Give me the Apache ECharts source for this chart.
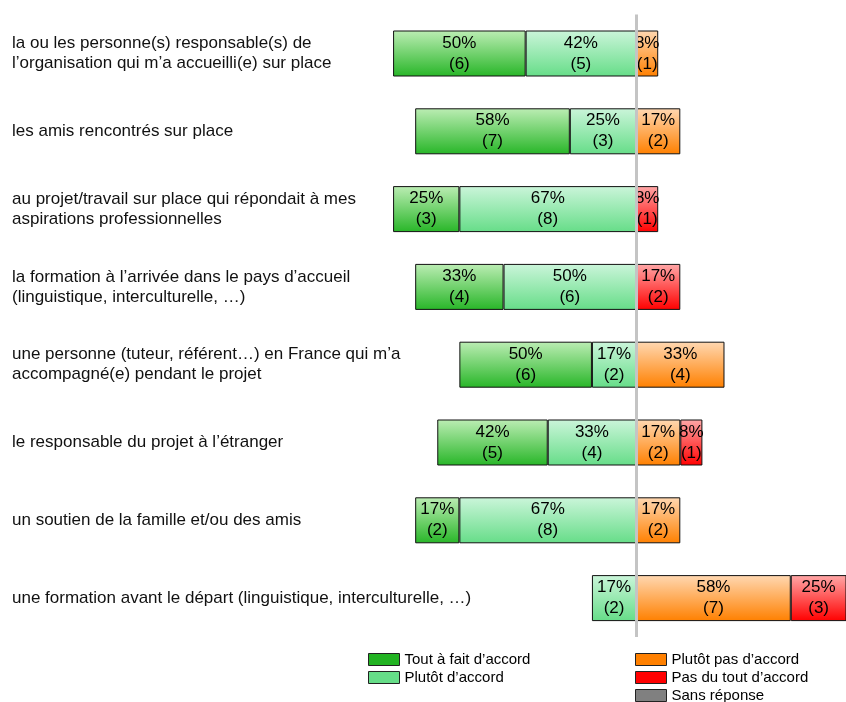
<!DOCTYPE html>
<html>
<head>
<meta charset="utf-8">
<script src="https://cdn.jsdelivr.net/npm/echarts@6/dist/echarts.min.js"></script>
<style>
  html, body { margin: 0; padding: 0; background: #fff; }
  #myChart { width: 846px; height: 702px; }
</style>
</head>
<body>
<div id="myChart"></div>
<script>
// categories (top to bottom)
const categories = [
  'la ou les personne(s) responsable(s) de\nl’organisation qui m’a accueilli(e) sur place',
  'les amis rencontrés sur place',
  'au projet/travail sur place qui répondait à mes\naspirations professionnelles',
  'la formation à l’arrivée dans le pays d’accueil\n(linguistique, interculturelle, …)',
  'une personne (tuteur, référent…) en France qui m’a\naccompagné(e) pendant le projet',
  'le responsable du projet à l’étranger',
  'un soutien de la famille et/ou des amis',
  'une formation avant le départ (linguistique, interculturelle, …)'
];

// nombre de réponses par modalité
const countTout = [6, 7, 3, 4, 6, 5, 2, null];
const countPlutot = [5, 3, 8, 6, 2, 4, 8, 2];
const countPlutotPas = [1, 2, null, null, 4, 2, 2, 7];
const countPasDuTout = [null, null, 1, 2, null, 1, null, 3];
const countSansReponse = [null, null, null, null, null, null, null, null];

// pourcentages affichés
const pctTout = [50, 58, 25, 33, 50, 42, 17, null];
const pctPlutot = [42, 25, 67, 50, 17, 33, 67, 17];
const pctPlutotPas = [8, 17, null, null, 33, 17, 17, 58];
const pctPasDuTout = [null, null, 8, 17, null, 8, null, 25];
const pctSansReponse = [null, null, null, null, null, null, null, null];

const legendNames = ['Tout à fait d’accord', 'Plutôt d’accord', 'Plutôt pas d’accord', 'Pas du tout d’accord', 'Sans réponse'];
const legendColors = ['#22b322', '#66dd88', '#ff8000', '#ff0000', '#808080'];

const FONT = 'Liberation Sans, Arial, sans-serif';

function grad(top, bottom) {
  return new echarts.graphic.LinearGradient(0, 0, 0, 1, [
    {offset: 0, color: top},
    {offset: 1, color: bottom}
  ]);
}

function makeSeries(name, counts, pcts, left, top, bottom) {
  return {
    name: name,
    type: 'bar',
    stack: 'total',
    barWidth: 46,
    // à gauche du centre : valeurs négatives
    data: counts.map(v => v == null ? null : (left ? -v : v)),
    itemStyle: {
      color: grad(top, bottom),
      borderColor: '#111',
      borderWidth: 1
    },
    label: {
      show: true,
      position: 'inside',
      color: '#000',
      fontSize: 17,
      lineHeight: 21,
      fontFamily: FONT,
      textBorderWidth: 0,
      formatter: p => pcts[p.dataIndex] == null ? '' : pcts[p.dataIndex] + '%\n(' + counts[p.dataIndex] + ')'
    }
  };
}

const series = [
  makeSeries(legendNames[1], countPlutot, pctPlutot, true, '#cbf5da', '#66dd88'),
  makeSeries(legendNames[0], countTout, pctTout, true, '#bcedb4', '#28b628'),
  makeSeries(legendNames[2], countPlutotPas, pctPlutotPas, false, '#ffd8b2', '#ff8000'),
  makeSeries(legendNames[3], countPasDuTout, pctPasDuTout, false, '#ffa8a8', '#ff0000'),
  makeSeries(legendNames[4], countSansReponse, pctSansReponse, false, '#c0c0c0', '#808080')
];

// ligne grise verticale au centre
series[4].markLine = {
  silent: true,
  symbol: 'none',
  label: {show: false},
  lineStyle: {color: '#c4c4c4', width: 3, type: 'solid'},
  data: [{xAxis: 0}]
};

function legendData(idx) {
  return idx.map(i => ({
    name: legendNames[i],
    itemStyle: {color: legendColors[i], borderColor: '#222', borderWidth: 1}
  }));
}

const legendText = {color: '#000', fontSize: 15, lineHeight: 15, fontFamily: FONT};

const option = {
  animation: false,
  grid: {left: 371, right: 0, top: 14.6, height: 622.4, containLabel: false},
  xAxis: {
    type: 'value',
    min: -12,
    max: 9.5,
    show: false
  },
  yAxis: {
    type: 'category',
    inverse: true,
    data: categories,
    axisLine: {show: false, onZero: false},
    axisTick: {show: false},
    splitLine: {show: false},
    axisLabel: {
      align: 'left',
      margin: 359,
      color: '#111',
      fontSize: 17,
      lineHeight: 20,
      fontFamily: FONT
    }
  },
  legend: [
    {
      left: 368, top: 652, height: 80, padding: 0, orient: 'vertical', selectedMode: false,
      icon: 'rect', itemWidth: 31, itemHeight: 12, itemGap: 3,
      textStyle: legendText,
      data: legendData([0, 1])
    },
    {
      left: 635, top: 652, height: 80, padding: 0, orient: 'vertical', selectedMode: false,
      icon: 'rect', itemWidth: 31, itemHeight: 12, itemGap: 3,
      textStyle: legendText,
      data: legendData([2, 3, 4])
    }
  ],
  series: series
};

let myChart = echarts.init(document.getElementById('myChart'));
myChart.setOption(option);
</script>
</body>
</html>
